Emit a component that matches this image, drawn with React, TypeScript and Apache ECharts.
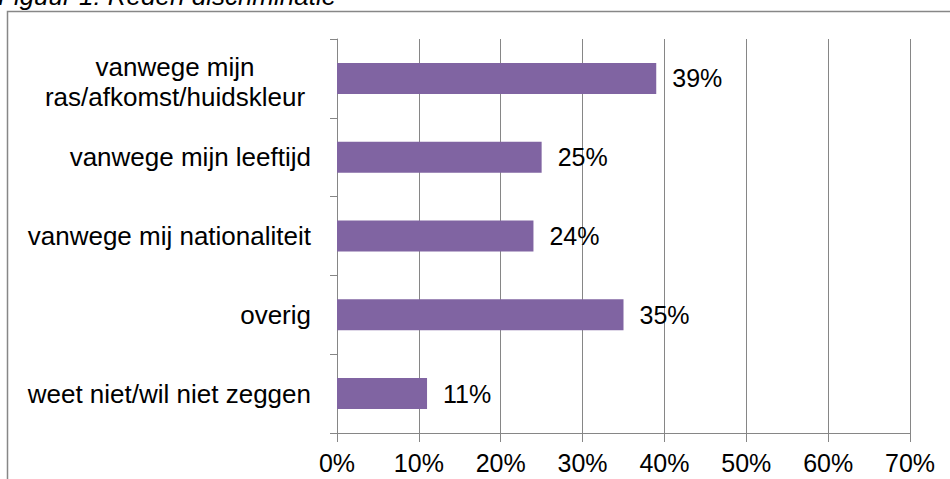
import React, { useEffect, useRef } from "react";
import * as echarts from "echarts";

const categories = [
  "vanwege mijn\nras/afkomst/huidskleur",
  "vanwege mijn leeftijd",
  "vanwege mij nationaliteit",
  "overig",
  "weet niet/wil niet zeggen",
];
const values = [39, 25, 24, 35, 11];
const titleText = "Figuur 1: Reden discriminatie";

export default function App() {
  const ref = useRef<HTMLDivElement>(null);
  useEffect(() => {
    if (!ref.current) return;
    const chart = echarts.init(ref.current, null, { renderer: "svg" });
    const font = "'Liberation Sans', Arial, sans-serif";
    chart.setOption({
      animation: false,
      textStyle: { fontFamily: font },
      grid: { left: 337, top: 39, right: 40, bottom: 46 },
      graphic: [
        {
          type: "rect",
          shape: { x: 7.5, y: 11.5, width: 2000, height: 2000 },
          style: { fill: "none", stroke: "#878787", lineWidth: 1.5 },
          silent: true,
        },
        {
          type: "text",
          x: -2,
          y: 9,
          style: {
            text: titleText,
            font: "italic 26px 'Liberation Sans', Arial, sans-serif",
            fill: "#000",
            verticalAlign: "bottom",
            align: "left",
          },
        },
      ],
      xAxis: {
        type: "value",
        min: 0,
        max: 70,
        interval: 10,
        axisLine: { show: true, lineStyle: { color: "#868686", width: 1 } },
        axisTick: { show: true, length: 9, lineStyle: { color: "#868686" } },
        splitLine: { show: true, lineStyle: { color: "#868686", width: 1 } },
        axisLabel: {
          formatter: "{value}%",
          fontSize: 25,
          color: "#000",
          margin: 17,
          fontFamily: font,
        },
      },
      yAxis: {
        type: "category",
        data: categories.map((c) =>
          c.indexOf("\n") >= 0
            ? { value: c, textStyle: { padding: [8, 0, 0, 0] } }
            : c
        ),
        inverse: true,
        axisLine: { show: true, lineStyle: { color: "#868686", width: 1 } },
        axisTick: { show: true, length: 7, lineStyle: { color: "#868686" } },
        axisLabel: {
          fontSize: 26,
          color: "#000",
          margin: 26,
          fontFamily: font,
          formatter: (v: string) => {
            if (v.indexOf("\n") >= 0) {
              return v
                .split("\n")
                .map((s) => "{c|" + s + "}")
                .join("\n");
            }
            return v;
          },
          rich: {
            c: {
              width: 272,
              align: "center",
              fontSize: 26,
              lineHeight: 30,
              color: "#000",
              fontFamily: font,
            },
          },
        },
      },
      series: [
        {
          type: "bar",
          data: values,
          barWidth: 31,
          itemStyle: { color: "#8064A2" },
          label: {
            show: true,
            position: "right",
            distance: 16,
            formatter: "{c}%",
            fontSize: 25,
            color: "#000",
            fontFamily: font,
          },
        },
      ],
    });
    return () => chart.dispose();
  }, []);
  return (
    <div
      ref={ref}
      style={{ position: "fixed", left: 0, top: 0, width: 950, height: 479, background: "#fff" }}
    />
  );
}
